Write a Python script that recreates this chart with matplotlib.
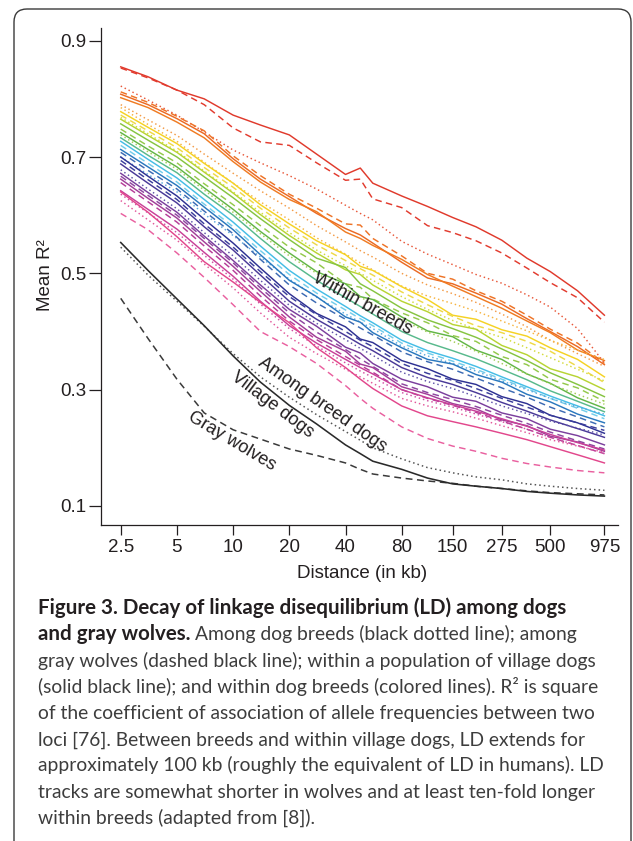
import matplotlib
matplotlib.use('Agg')
import matplotlib.pyplot as plt
from matplotlib.patches import FancyBboxPatch
from matplotlib.transforms import IdentityTransform

# ---------------- data ----------------
DIST = [2.5, 3.5, 5, 7, 10, 14, 20, 28, 40, 48, 56, 80, 110, 150, 200, 275, 375, 500, 700, 975]
XTICKS = [2.5, 5, 10, 20, 40, 80, 150, 275, 500, 975]
XTICK_LABELS = ['2.5', '5', '10', '20', '40', '80', '150', '275', '500', '975']
YTICKS = [0.1, 0.3, 0.5, 0.7, 0.9]
YTICK_LABELS = ['0.1', '0.3', '0.5', '0.7', '0.9']

VILLAGE_DOGS = [0.553, 0.505, 0.456, 0.410, 0.358, 0.313, 0.273, 0.241, 0.205, 0.190, 0.177, 0.163, 0.148, 0.138, 0.134, 0.130, 0.125, 0.122, 0.119, 0.117]
AMONG_BREEDS = [0.545, 0.497, 0.452, 0.409, 0.362, 0.322, 0.287, 0.257, 0.228, 0.213, 0.200, 0.181, 0.166, 0.157, 0.150, 0.145, 0.138, 0.134, 0.130, 0.127]
GRAY_WOLVES = [0.457, 0.388, 0.318, 0.260, 0.231, 0.215, 0.198, 0.187, 0.174, 0.163, 0.155, 0.148, 0.143, 0.139, 0.134, 0.130, 0.126, 0.123, 0.121, 0.119]

WB01 = [0.855, 0.838, 0.815, 0.800, 0.772, 0.755, 0.738, 0.705, 0.670, 0.681, 0.655, 0.633, 0.615, 0.596, 0.580, 0.557, 0.526, 0.503, 0.470, 0.428]
WB02 = [0.853, 0.836, 0.815, 0.790, 0.750, 0.726, 0.720, 0.690, 0.660, 0.662, 0.628, 0.613, 0.582, 0.570, 0.556, 0.535, 0.509, 0.484, 0.458, 0.416]
WB03 = [0.822, 0.798, 0.772, 0.743, 0.712, 0.690, 0.668, 0.645, 0.617, 0.603, 0.592, 0.555, 0.533, 0.515, 0.498, 0.483, 0.463, 0.442, 0.405, 0.346]
WB04 = [0.808, 0.790, 0.766, 0.740, 0.697, 0.662, 0.632, 0.603, 0.577, 0.566, 0.552, 0.519, 0.492, 0.482, 0.466, 0.447, 0.422, 0.400, 0.374, 0.343]
WB05 = [0.802, 0.785, 0.760, 0.733, 0.692, 0.657, 0.627, 0.606, 0.571, 0.560, 0.548, 0.524, 0.498, 0.478, 0.460, 0.440, 0.418, 0.398, 0.368, 0.350]
WB06 = [0.812, 0.794, 0.770, 0.745, 0.702, 0.668, 0.636, 0.612, 0.585, 0.583, 0.560, 0.530, 0.500, 0.490, 0.470, 0.452, 0.428, 0.404, 0.380, 0.345]
WB07 = [0.790, 0.764, 0.737, 0.705, 0.672, 0.642, 0.612, 0.582, 0.554, 0.539, 0.528, 0.500, 0.480, 0.465, 0.450, 0.430, 0.408, 0.385, 0.362, 0.340]
WB08 = [0.785, 0.756, 0.727, 0.691, 0.655, 0.623, 0.592, 0.561, 0.533, 0.518, 0.506, 0.478, 0.461, 0.448, 0.435, 0.418, 0.401, 0.385, 0.368, 0.352]
WB09 = [0.778, 0.751, 0.723, 0.689, 0.655, 0.618, 0.585, 0.556, 0.532, 0.512, 0.505, 0.477, 0.455, 0.428, 0.421, 0.403, 0.392, 0.372, 0.352, 0.322]
WB10 = [0.772, 0.745, 0.716, 0.682, 0.648, 0.612, 0.578, 0.549, 0.522, 0.508, 0.497, 0.468, 0.446, 0.426, 0.410, 0.398, 0.383, 0.366, 0.340, 0.312]
WB11 = [0.768, 0.740, 0.710, 0.676, 0.640, 0.605, 0.570, 0.540, 0.513, 0.500, 0.488, 0.460, 0.438, 0.419, 0.404, 0.390, 0.372, 0.355, 0.335, 0.315]
WB12 = [0.765, 0.737, 0.708, 0.674, 0.638, 0.601, 0.565, 0.535, 0.506, 0.498, 0.480, 0.452, 0.434, 0.412, 0.404, 0.376, 0.360, 0.336, 0.322, 0.300]
WB13 = [0.757, 0.729, 0.700, 0.666, 0.630, 0.594, 0.558, 0.526, 0.510, 0.482, 0.470, 0.440, 0.420, 0.405, 0.390, 0.370, 0.350, 0.329, 0.309, 0.288]
WB14 = [0.748, 0.719, 0.690, 0.654, 0.618, 0.582, 0.545, 0.518, 0.482, 0.476, 0.456, 0.432, 0.415, 0.393, 0.383, 0.357, 0.343, 0.318, 0.303, 0.280]
WB15 = [0.742, 0.713, 0.683, 0.647, 0.610, 0.572, 0.535, 0.503, 0.482, 0.460, 0.455, 0.425, 0.401, 0.391, 0.368, 0.352, 0.327, 0.311, 0.286, 0.268]
WB16 = [0.738, 0.709, 0.679, 0.643, 0.605, 0.568, 0.530, 0.500, 0.473, 0.459, 0.448, 0.420, 0.399, 0.383, 0.366, 0.345, 0.327, 0.310, 0.292, 0.275]
WB17 = [0.733, 0.703, 0.673, 0.636, 0.600, 0.560, 0.520, 0.488, 0.458, 0.443, 0.430, 0.400, 0.381, 0.367, 0.353, 0.335, 0.317, 0.298, 0.280, 0.262]
WB18 = [0.727, 0.696, 0.664, 0.627, 0.588, 0.547, 0.505, 0.473, 0.443, 0.427, 0.415, 0.385, 0.367, 0.354, 0.340, 0.322, 0.305, 0.289, 0.272, 0.255]
WB19 = [0.720, 0.689, 0.657, 0.619, 0.580, 0.539, 0.498, 0.466, 0.437, 0.422, 0.410, 0.380, 0.363, 0.349, 0.335, 0.318, 0.302, 0.285, 0.268, 0.250]
WB20 = [0.700, 0.670, 0.640, 0.602, 0.565, 0.528, 0.490, 0.459, 0.430, 0.416, 0.405, 0.375, 0.358, 0.345, 0.332, 0.315, 0.300, 0.285, 0.270, 0.258]
WB21 = [0.713, 0.683, 0.651, 0.614, 0.575, 0.532, 0.488, 0.460, 0.425, 0.416, 0.398, 0.372, 0.352, 0.344, 0.326, 0.313, 0.292, 0.279, 0.258, 0.243]
WB22 = [0.708, 0.677, 0.645, 0.607, 0.568, 0.524, 0.480, 0.449, 0.421, 0.406, 0.394, 0.365, 0.348, 0.335, 0.320, 0.303, 0.287, 0.270, 0.253, 0.236]
WB23 = [0.700, 0.667, 0.633, 0.593, 0.552, 0.509, 0.465, 0.431, 0.408, 0.387, 0.381, 0.350, 0.336, 0.318, 0.309, 0.288, 0.276, 0.256, 0.243, 0.225]
WB24 = [0.694, 0.661, 0.627, 0.585, 0.545, 0.503, 0.460, 0.429, 0.400, 0.385, 0.374, 0.345, 0.328, 0.316, 0.302, 0.285, 0.270, 0.256, 0.243, 0.230]
WB25 = [0.688, 0.655, 0.621, 0.580, 0.540, 0.497, 0.452, 0.421, 0.393, 0.378, 0.367, 0.338, 0.321, 0.309, 0.295, 0.278, 0.263, 0.248, 0.233, 0.218]
WB26 = [0.678, 0.645, 0.611, 0.570, 0.530, 0.488, 0.445, 0.414, 0.386, 0.371, 0.359, 0.330, 0.314, 0.302, 0.288, 0.272, 0.259, 0.246, 0.234, 0.222]
WB27 = [0.672, 0.639, 0.605, 0.564, 0.522, 0.480, 0.438, 0.409, 0.373, 0.363, 0.345, 0.318, 0.305, 0.287, 0.280, 0.260, 0.250, 0.232, 0.221, 0.205]
WB28 = [0.667, 0.634, 0.600, 0.560, 0.518, 0.475, 0.432, 0.399, 0.369, 0.353, 0.340, 0.310, 0.295, 0.283, 0.271, 0.256, 0.242, 0.227, 0.212, 0.198]
WB29 = [0.662, 0.629, 0.595, 0.554, 0.512, 0.469, 0.425, 0.390, 0.366, 0.344, 0.338, 0.305, 0.292, 0.276, 0.267, 0.248, 0.238, 0.220, 0.210, 0.194]
WB30 = [0.656, 0.623, 0.588, 0.547, 0.505, 0.461, 0.418, 0.386, 0.357, 0.342, 0.330, 0.300, 0.285, 0.273, 0.261, 0.246, 0.232, 0.218, 0.204, 0.190]
WB31 = [0.642, 0.610, 0.576, 0.536, 0.495, 0.452, 0.410, 0.380, 0.352, 0.338, 0.327, 0.300, 0.286, 0.274, 0.263, 0.250, 0.237, 0.223, 0.209, 0.196]
WB32 = [0.636, 0.604, 0.570, 0.531, 0.490, 0.447, 0.405, 0.375, 0.346, 0.332, 0.321, 0.295, 0.281, 0.270, 0.258, 0.245, 0.232, 0.218, 0.204, 0.190]
WB33 = [0.625, 0.592, 0.557, 0.516, 0.475, 0.432, 0.390, 0.362, 0.335, 0.322, 0.311, 0.285, 0.272, 0.262, 0.251, 0.238, 0.226, 0.214, 0.203, 0.192]
WB34 = [0.640, 0.605, 0.563, 0.520, 0.485, 0.450, 0.415, 0.372, 0.338, 0.318, 0.302, 0.272, 0.255, 0.245, 0.236, 0.225, 0.214, 0.202, 0.188, 0.174]
WB35 = [0.603, 0.575, 0.535, 0.493, 0.446, 0.400, 0.374, 0.345, 0.307, 0.285, 0.268, 0.236, 0.216, 0.203, 0.194, 0.182, 0.173, 0.167, 0.161, 0.157]

WITHIN = [WB01, WB02, WB03, WB04, WB05, WB06, WB07, WB08, WB09, WB10, WB11, WB12,
          WB13, WB14, WB15, WB16, WB17, WB18, WB19, WB20, WB21, WB22, WB23, WB24,
          WB25, WB26, WB27, WB28, WB29, WB30, WB31, WB32, WB33, WB34, WB35]

# ---------------- styles ----------------
S, D, P = '-', 'dashed', 'dotted'
WITHIN_STYLE = [
    ('#E03A2C', S), ('#E23B2E', D), ('#E8583A', P), ('#EB6A24', S), ('#F07B22', S),
    ('#EE7326', D), ('#F39A45', P), ('#F6B440', P), ('#F5D224', S), ('#EED947', D),
    ('#D3DB3B', P), ('#B8D433', S), ('#86C441', S), ('#93C94B', D), ('#63B646', S),
    ('#A2CD55', P), ('#58B98C', S), ('#45BDE6', S), ('#73CDEB', D), ('#5AA8DD', P),
    ('#2A78BE', S), ('#3C6AB3', D), ('#2E3192', S), ('#3B3E9C', D), ('#4A3A98', S),
    ('#5E52A8', P), ('#7B3F9D', S), ('#8E45A0', D), ('#A13E98', S), ('#B63D98', D),
    ('#C94198', S), ('#D04EA2', P), ('#E2579A', P), ('#E2478C', S), ('#E9609F', D),
]
DASH = (0, (4.5, 3.0))
DOT = (0, (1.0, 2.0))


def ls_of(s):
    return {S: '-', D: DASH, P: DOT}[s]


W, H = 633, 841
fig = plt.figure(figsize=(W / 100, H / 100), dpi=100)
fig.patch.set_facecolor('white')

CHART_FONT = 'Liberation Sans'
TXT = '#231f20'

left_px, right_px, top_px, bot_px = 101, 618, 28, 525
ax = fig.add_axes([left_px / W, 1 - bot_px / H, (right_px - left_px) / W, (bot_px - top_px) / H])
ax.set_xscale('log')
ax.set_xlim(1.96, 1153)
ax.set_ylim(0.0673, 0.9218)

for vals, (c, s) in zip(WITHIN, WITHIN_STYLE):
    ax.plot(DIST, vals, color=c, linestyle=ls_of(s), lw=1.05, solid_joinstyle='round')

ax.plot(DIST, GRAY_WOLVES, color='#3a3a3a', linestyle=(0, (4.5, 3.0)), lw=1.1)
ax.plot(DIST, AMONG_BREEDS, color='#555555', linestyle=(0, (1.0, 2.0)), lw=1.1)
ax.plot(DIST, VILLAGE_DOGS, color='#2a2a2a', linestyle='-', lw=1.15)

for sp in ['top', 'right']:
    ax.spines[sp].set_visible(False)
for sp in ['left', 'bottom']:
    ax.spines[sp].set_linewidth(0.9)
    ax.spines[sp].set_color(TXT)

ax.set_xticks(XTICKS)
ax.set_xticklabels(XTICK_LABELS)
ax.xaxis.set_minor_locator(matplotlib.ticker.NullLocator())
ax.set_yticks(YTICKS)
ax.set_yticklabels(YTICK_LABELS)
ax.tick_params(axis='x', direction='out', length=7.2, width=0.9, color=TXT, pad=3.2,
               labelsize=13.5, labelcolor=TXT)
ax.tick_params(axis='y', direction='out', length=8.4, width=0.9, color=TXT, pad=2.0,
               labelsize=13.5, labelcolor=TXT)
for lab in ax.get_xticklabels() + ax.get_yticklabels():
    lab.set_fontfamily(CHART_FONT)

# axis titles
fig.text(45 / W, 1 - 275 / H, 'Mean R\u00b2', rotation=90, ha='center', va='center',
         fontsize=13.5, family=CHART_FONT, color=TXT)
fig.text(362 / W, 1 - 573 / H, 'Distance (in kb)', ha='center', va='center',
         fontsize=13.5, family=CHART_FONT, color=TXT)

# in-plot labels
for txt, xk, yv, rot in [('Within breeds', 49.6, 0.447, -29),
                         ('Among breed dogs', 29.9, 0.274, -35),
                         ('Village dogs', 16.3, 0.274, -37),
                         ('Gray wolves', 9.87, 0.212, -31)]:
    ax.text(xk, yv, txt, rotation=rot, rotation_mode='anchor', ha='center', va='center',
            fontsize=13, family=CHART_FONT, color=TXT)

# rounded frame around figure + caption
frame = FancyBboxPatch((14, -40), 617, 832 + 40, boxstyle='round,pad=0,rounding_size=13',
                       transform=IdentityTransform(), facecolor='none', edgecolor='#3a3a3a',
                       lw=1.0)
fig.patches.append(frame)

# caption
CAP_FONT = 'Lato'
CAP_X = 38
CAP_LINES = [
    ('Figure 3. Decay of linkage disequilibrium (LD) among dogs', ''),
    ('and gray wolves.', 'Among dog breeds (black dotted line); among'),
    ('', 'gray wolves (dashed black line); within a population of village dogs'),
    ('', '(solid black line); and within dog breeds (colored lines). R\u00b2 is square'),
    ('', 'of the coefficient of association of allele frequencies between two'),
    ('', 'loci [76]. Between breeds and within village dogs, LD extends for'),
    ('', 'approximately 100 kb (roughly the equivalent of LD in humans). LD'),
    ('', 'tracks are somewhat shorter in wolves and at least ten-fold longer'),
    ('', 'within breeds (adapted from [8]).'),
]
CAP_BASE = [614, 640.3, 666.5, 692.8, 719, 745.3, 771.5, 797.8, 824]

fig.canvas.draw()
r = fig.canvas.get_renderer()
probe = fig.text(0, 0, CAP_LINES[2][1], fontsize=10, family=CAP_FONT)
w10 = probe.get_window_extent(r).width
probe.remove()
cap_size = 10 * (597 - CAP_X) / w10

probe_b = fig.text(0, 0, CAP_LINES[0][0], fontsize=10, family=CAP_FONT, weight='bold')
wb10 = probe_b.get_window_extent(r).width
probe_b.remove()
cap_size_b = 10 * (566 - CAP_X) / wb10

sp1 = fig.text(0, 0, 'a a', fontsize=cap_size, family=CAP_FONT)
sp2 = fig.text(0, 0, 'aa', fontsize=cap_size, family=CAP_FONT)
space_w = sp1.get_window_extent(r).width - sp2.get_window_extent(r).width
sp1.remove(); sp2.remove()

for (bold, reg), yb in zip(CAP_LINES, CAP_BASE):
    x = CAP_X
    if bold:
        tb = fig.text(x / W, 1 - yb / H, bold, fontsize=cap_size_b, family=CAP_FONT,
                      weight='bold', color='#231f20', va='baseline', ha='left')
        x += tb.get_window_extent(r).width + space_w
    if reg:
        fig.text(x / W, 1 - yb / H, reg, fontsize=cap_size, family=CAP_FONT,
                 color='#3d3d3d', va='baseline', ha='left')

fig.savefig('out.png', dpi=100, facecolor='white')
